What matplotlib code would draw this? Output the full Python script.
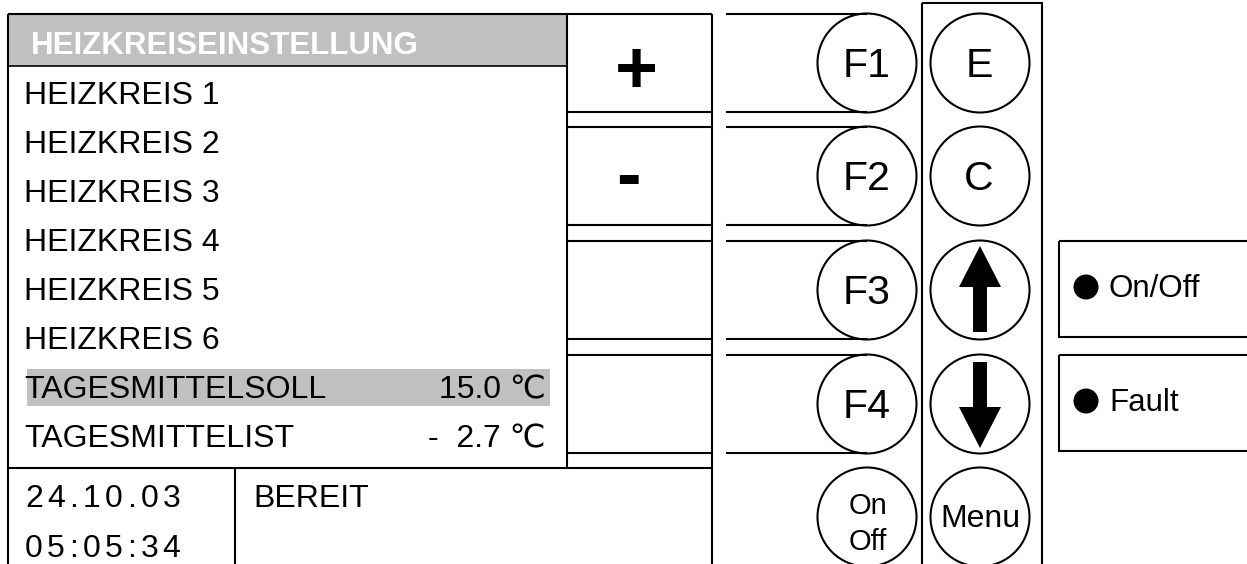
import matplotlib
matplotlib.use("Agg")
import matplotlib.pyplot as plt
from matplotlib.patches import Rectangle, Circle, Polygon
from matplotlib.font_manager import FontProperties, findfont
from matplotlib.ft2font import FT2Font

# Inhalt der Anzeige (Bedienfeld Heizkreisregler)
titel = "HEIZKREISEINSTELLUNG"
menue_zeilen = ["HEIZKREIS 1", "HEIZKREIS 2", "HEIZKREIS 3", "HEIZKREIS 4",
                "HEIZKREIS 5", "HEIZKREIS 6", "TAGESMITTELSOLL", "TAGESMITTELIST"]
menue_werte = ["", "", "", "", "", "", "15.0 \u2103", "-  2.7 \u2103"]
markierte_zeile = 6
datum = "24.10.03"
uhrzeit = "05:05:34"
status_text = "BEREIT"

tasten_wert = ["+", "-", "", ""]
tasten_f = ["F1", "F2", "F3", "F4", "On\nOff"]
tasten_nav = ["E", "C", "hoch", "runter", "Menu"]
meldungen = ["On/Off", "Fault"]

# Layout in Pixeln (1 Einheit = 1 px bei dpi 100)
B, H = 1247, 564
DPI = 100
FONT = ["Liberation Sans", "DejaVu Sans"]
GRAU = "#c0c0c0"
LW = 1.5

band_oben = [14, 127, 241, 355, 468]
band_h = 98

fig = plt.figure(figsize=(B / DPI, H / DPI), dpi=DPI)
ax = fig.add_axes([0, 0, 1, 1])
ax.set_xlim(0, B)
ax.set_ylim(H, 0)
ax.axis("off")


def cap(size):
    # Versalhoehe in px fuer Arial-Metrik
    return 0.716 * size * DPI / 72


def linie(xs, ys, **kw):
    ax.plot(xs, ys, color="black", lw=kw.pop("lw", LW), solid_capstyle="butt", **kw)


def gesperrt(x, y, s, size, abstand):
    # Text mit Zeichenabstand
    font = FT2Font(findfont(FontProperties(family="Liberation Sans")))
    font.set_size(size, DPI)
    for ch in s:
        ax.text(x, y, ch, fontsize=size, family=FONT, va="baseline", ha="left")
        g = font.load_char(ord(ch))
        x += g.linearHoriAdvance / 65536 + abstand


# --- Display links ---
x0, x1 = 8, 567
ax.add_patch(Rectangle((x0, 14), x1 - x0, 52, facecolor=GRAU, edgecolor="none"))
ax.text(31, 54, titel, fontsize=22.5, fontweight="bold", color="white",
        family=FONT, va="baseline")
linie([x0, x1], [14, 14])
linie([x0, x1], [66, 66], lw=1.2)
linie([x0, x0], [14, H + 5])
linie([x1, x1], [14, 468])
linie([x0, 712], [468, 468])
linie([235, 235], [468, H + 5])

for i, (name, wert) in enumerate(zip(menue_zeilen, menue_werte)):
    y = 104 + 49 * i
    if i == markierte_zeile:
        ax.add_patch(Rectangle((27, y - 29), 523, 37, facecolor=GRAU, edgecolor="none"))
    ax.text(24, y, name, fontsize=23, family=FONT, va="baseline")
    if wert:
        ax.text(546, y, wert, fontsize=23, family=FONT, va="baseline", ha="right")

gesperrt(25, 507, datum, 23, 4.4)
gesperrt(25, 557, uhrzeit, 23, 4.4)
ax.text(253, 507, status_text, fontsize=23, family=FONT, va="baseline")

# --- Plus/Minus-Spalte ---
linie([712, 712], [14, H + 5])
for oben in band_oben[:4]:
    linie([x1, 712], [oben, oben])
    linie([x1, 712], [oben + band_h, oben + band_h])
plus_offset = {"+": (636, 30), "-": (628, 23)}
for oben, t in zip(band_oben, tasten_wert):
    if t:
        cx, dy = plus_offset[t]
        cy = oben + band_h / 2
        ax.text(cx, cy + dy, t, fontsize=53, fontweight="bold", family=FONT,
                ha="center", va="baseline")

# --- F-Tasten ---
fx = 867
r = 49.5
for oben, t in zip(band_oben, tasten_f):
    cy = oben + band_h / 2
    if oben < 468:
        linie([726, fx], [oben, oben])
        linie([726, fx], [oben + band_h, oben + band_h])
    ax.add_patch(Circle((fx, cy), r, facecolor="white", edgecolor="black", lw=LW))
    if "\n" in t:
        oben_t, unten_t = t.split("\n")
        ax.text(fx + 1, cy - 13 + cap(21) / 2, oben_t, fontsize=21, family=FONT,
                ha="center", va="baseline")
        ax.text(fx + 1, cy + 23 + cap(21) / 2, unten_t, fontsize=21, family=FONT,
                ha="center", va="baseline")
    else:
        ax.text(fx, cy + 14, t, fontsize=29.5, family=FONT,
                ha="center", va="baseline")

# --- Navigationsspalte ---
nx = 980
ax.add_patch(Rectangle((922, 3), 120, H + 10, facecolor="none", edgecolor="black", lw=LW))
for oben, t in zip(band_oben, tasten_nav):
    cy = oben + band_h / 2
    ax.add_patch(Circle((nx, cy), r, facecolor="white", edgecolor="black", lw=LW))
    if t in ("hoch", "runter"):
        s = -1 if t == "hoch" else 1
        # Schaft und Spitze, relativ zur Kreismitte
        schaft = [(nx - 7, cy - 42 * s), (nx + 7, cy - 42 * s),
                  (nx + 7, cy + 5 * s), (nx - 7, cy + 5 * s)]
        spitze = [(nx - 21, cy + 3 * s), (nx + 21, cy + 3 * s), (nx, cy + 44 * s)]
        ax.add_patch(Polygon(schaft, closed=True, facecolor="black", edgecolor="none"))
        ax.add_patch(Polygon(spitze, closed=True, facecolor="black", edgecolor="none"))
    elif t == "Menu":
        ax.text(nx, cy - 1.5 + cap(23) / 2, t, fontsize=23, family=FONT,
                ha="center", va="baseline")
    else:
        ax.text(nx - 1, cy + 14, t, fontsize=29.5, family=FONT,
                ha="center", va="baseline")

# --- Meldeleuchten ---
for oben, t in zip(band_oben[2:4], meldungen):
    ax.add_patch(Rectangle((1059, oben), B, band_h - 2, facecolor="none",
                           edgecolor="black", lw=LW))
    cy = oben + band_h / 2 - 3
    ax.add_patch(Circle((1086, cy), 12.5, facecolor="black", edgecolor="none"))
    ax.text(1109, cy + 10, t, fontsize=22.5, family=FONT, va="baseline")

fig.savefig("out.png", dpi=DPI)
